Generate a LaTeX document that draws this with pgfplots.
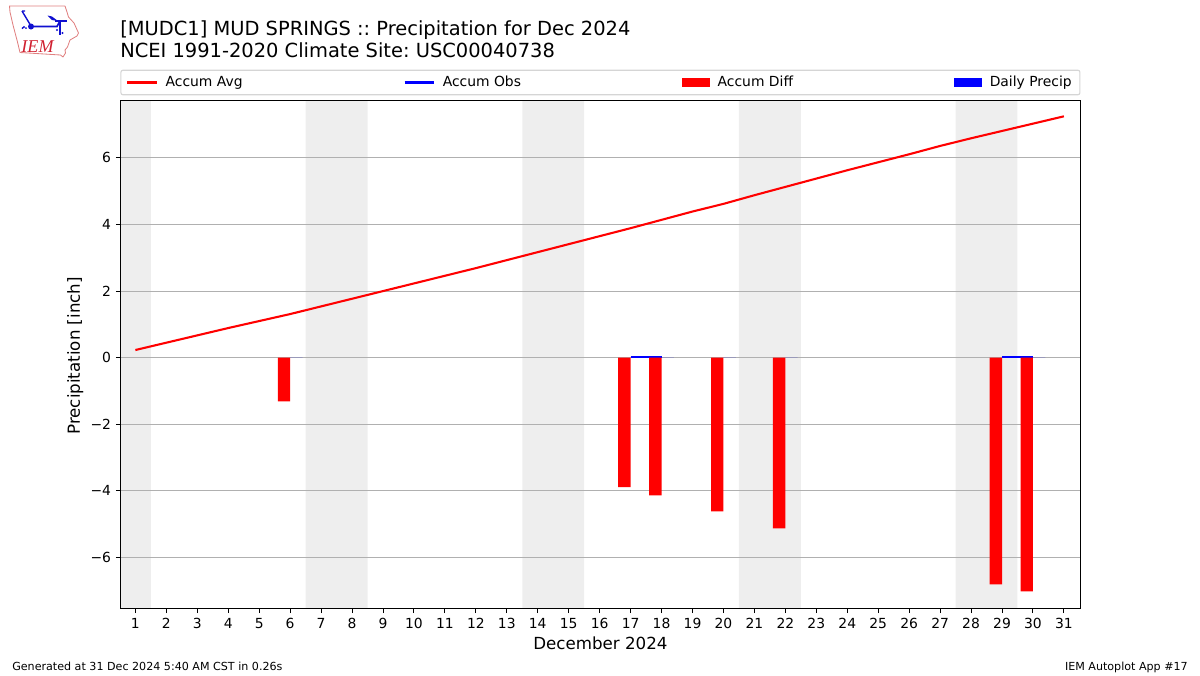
\documentclass[border=0pt]{standalone}
\usepackage{pgfplots}
\pgfplotsset{compat=1.18}
\usepackage{fontspec}
\setmainfont{DejaVu Sans}
\newfontfamily\logofont{Liberation Serif}
\frenchspacing
\definecolor{shade}{HTML}{EEEEEE}
\definecolor{gridc}{HTML}{B0B0B0}
\definecolor{legc}{HTML}{D5D5D5}
\definecolor{logor}{HTML}{E08080}
\definecolor{logob}{HTML}{1010D0}
\definecolor{logot}{HTML}{D02030}
\pgfplotsset{
  lineleg/.style={legend image code/.code={\draw[##1,sharp corners] (0pt,0pt) -- (21pt,0pt);}},
  barleg/.style={legend image code/.code={\fill[##1,sharp corners] (0pt,-3.2pt) rectangle (20pt,3.2pt);}},
}
\begin{document}
\begin{tikzpicture}
\begin{scope}[x=0.72pt,y=-0.72pt]
\path[use as bounding box] (0,0) rectangle (1200,675);
\end{scope}
\begin{axis}[
  at={(87.0pt,-438.0pt)}, anchor=south west,
  scale only axis, width=690.6pt, height=365.76pt,
  set layers, clip mode=individual,
  xmin=0.53, xmax=31.52, ymin=-7.53, ymax=7.73,
  xtick={1,...,31},
  ytick={-6,-4,-2,0,2,4,6},
  yticklabels={−6,−4,−2,0,2,4,6},
  /pgf/number format/assume math mode=true,
  tick align=outside, xtick pos=bottom, ytick pos=left,
  major tick length=3.5pt,
  tick style={black,line width=0.7pt},
  axis line style={black,line width=0.7pt},
  ymajorgrids, grid style={gridc,line width=0.8pt},
  tick label style={font=\fontsize{10}{12}\selectfont},
  xlabel={December 2024}, ylabel={Precipitation [inch]},
  label style={font=\fontsize{12}{14}\selectfont},
  xlabel style={at={(axis description cs:0.5,0)},anchor=north,yshift=-17.3pt},
  ylabel style={at={(axis description cs:0,0.497)},anchor=south,yshift=23.4pt},
  legend columns=4,
  legend cell align=left,
  legend style={
    at={(0.5,1)}, anchor=south, yshift=3.6pt,
    draw=legc, line width=0.8pt, rounded corners=1.5pt,
    font=\fontsize{10}{12}\selectfont,
    inner xsep=3.9pt, inner ysep=2.3pt,
    /tikz/every even column/.style={column sep=113.8pt},
    /tikz/every odd column/.style={column sep=3.8pt},
  },
]
% weekend shading
\addplot[on layer=axis background, fill=shade, draw=none, forget plot] coordinates {(0,-10)(1.5,-10)(1.5,10)(0,10)(0,-10)};
\addplot[on layer=axis background, fill=shade, draw=none, forget plot] coordinates {(6.5,-10)(8.5,-10)(8.5,10)(6.5,10)(6.5,-10)};
\addplot[on layer=axis background, fill=shade, draw=none, forget plot] coordinates {(13.5,-10)(15.5,-10)(15.5,10)(13.5,10)(13.5,-10)};
\addplot[on layer=axis background, fill=shade, draw=none, forget plot] coordinates {(20.5,-10)(22.5,-10)(22.5,10)(20.5,10)(20.5,-10)};
\addplot[on layer=axis background, fill=shade, draw=none, forget plot] coordinates {(27.5,-10)(29.5,-10)(29.5,10)(27.5,10)(27.5,-10)};
% Accum Avg
\addplot[red, line width=1.5pt, lineleg] coordinates {
 (1,0.23)(2,0.45)(3,0.67)(4,0.89)(5,1.10)(6,1.31)(7,1.54)(8,1.77)(9,2.00)(10,2.23)
 (11,2.46)(12,2.69)(13,2.93)(14,3.17)(15,3.41)(16,3.65)(17,3.89)(18,4.14)(19,4.39)(20,4.62)
 (21,4.88)(22,5.13)(23,5.38)(24,5.63)(25,5.87)(26,6.11)(27,6.36)(28,6.59)(29,6.81)(30,7.03)(31,7.25)};
\addlegendentry{Accum Avg}
% Accum Obs
\addplot[blue, line width=1.5pt, lineleg, unbounded coords=jump] coordinates {
 (17,0.02)(18,0.02)(19,nan)(29,0.02)(30,0.02)};
\addlegendentry{Accum Obs}
% Accum Diff
\addplot[ybar, bar width=0.4, bar shift=-0.2, fill=red, draw=none, barleg] coordinates {
 (6,-1.31)(17,-3.89)(18,-4.14)(20,-4.62)(22,-5.13)(29,-6.81)(30,-7.02)};
\addlegendentry{Accum Diff}
% Daily Precip
\addplot[ybar, bar width=0.4, bar shift=0.2, fill=blue, draw=none, barleg] coordinates {
 (6,0)(17,0)(18,0)(20,0)(22,0)(29,0)(30,0)};
\addlegendentry{Daily Precip}
\end{axis}
\begin{scope}[x=0.72pt,y=-0.72pt]
% titles
\node[anchor=base west,inner sep=0pt,font=\fontsize{14}{16}\selectfont] at (120,35) {[MUDC1] MUD SPRINGS :: Precipitation for Dec 2024};
\node[anchor=base west,inner sep=0pt,font=\fontsize{14}{16}\selectfont] at (120,57) {NCEI 1991-2020 Climate Site: USC00040738};
% footer
\node[anchor=base west,inner sep=0pt,font=\fontsize{8}{10}\selectfont] at (12,670) {Generated at 31 Dec 2024 5:40 AM CST in 0.26s};
\node[anchor=base east,inner sep=0pt,font=\fontsize{8}{10}\selectfont] at (1188,670) {IEM Autoplot App \#17};
% logo
\draw[logor,line width=0.6pt,line join=round] (9.5,6)--(65,6)--(67,12)--(68.5,17)--(74,23)--(78.5,33)--(77,36)--(70,40)--(67.5,47)--(65,50)--(65.5,53)--(63,57)--(60.5,55)--(20,52.5)--(17.5,42)--(13,25)--(10,12)--cycle;
\draw[logob,line width=1.2pt] (31,26.5)--(57,26.5)--(60,21);
\draw[logob,line width=1pt] (22,11)--(31,26) (22,11)--(25,11);
\draw[logob,line width=0.8pt] (55,21)--(67,21) (60,21)--(60,35);
\fill[logob] (31,26.5) circle (3);
\fill[logob] (47.5,15.5)--(52,16.5)--(58,21)--(52,20)--cycle;
\fill[logob] (57,30) circle (1.2) (62.5,33) circle (1.2) (24,27) circle (1.2) (22.5,28) circle (1) (26,28) circle (1);
\node[anchor=base,inner sep=0pt,logot,font=\fontsize{13}{15}\logofont\itshape] at (37.5,52) {IEM};
\end{scope}
\end{tikzpicture}
\end{document}
